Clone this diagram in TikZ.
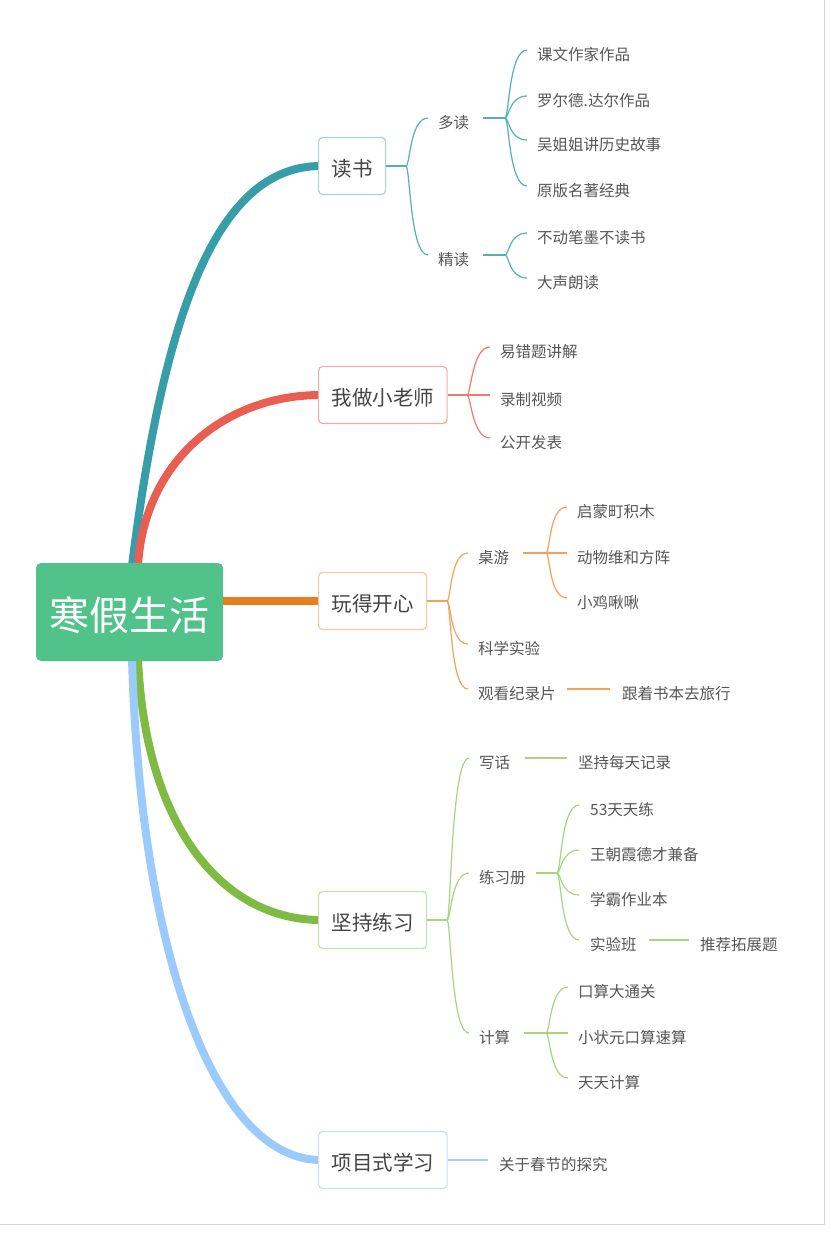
\documentclass[tikz,border=0pt]{standalone}
\usepackage{fontspec}
\newfontfamily\cjk{Noto Sans CJK SC}
\usetikzlibrary{calc}
\definecolor{cTeal}{HTML}{379DA8}
\definecolor{cRed}{HTML}{E85E50}
\definecolor{cOrange}{HTML}{E67E22}
\definecolor{cGreen}{HTML}{7FBB42}
\definecolor{cBlue}{HTML}{9ACBFC}
\definecolor{lTeal}{HTML}{56AEB8}
\definecolor{lRed}{HTML}{EF7B6E}
\definecolor{lOrange}{HTML}{F2A25A}
\definecolor{lGreen}{HTML}{A8D47E}
\definecolor{lBlue}{HTML}{A6CFF8}
\definecolor{bTeal}{HTML}{A8D5DB}
\definecolor{bRed}{HTML}{F4ABA3}
\definecolor{bOrange}{HTML}{F8C99E}
\definecolor{bGreen}{HTML}{C5E2A8}
\definecolor{bBlue}{HTML}{C9E1FB}
\definecolor{rootGreen}{HTML}{51C38A}
\definecolor{leafGray}{HTML}{555555}
\definecolor{mainGray}{HTML}{444444}
\definecolor{frameGray}{HTML}{D4D4D4}
\pgfdeclarelayer{bg}
\pgfsetlayers{bg,main}
\begin{document}
\begin{tikzpicture}[x=1pt,y=-1pt,
  leaf/.style={anchor=west, inner sep=0pt, text height=21.8pt, text depth=0pt,
    font=\cjk\fontsize{15.5}{16}\selectfont, text=leafGray},
  mainbox/.style={anchor=west, draw, line width=1.2pt, rounded corners=4pt, fill=white,
    minimum height=57pt, inner xsep=13pt, inner ysep=0pt, text height=23.6pt, text depth=2.05pt,
    font=\cjk\fontsize{20.5}{21}\selectfont, text=mainGray},
  rootbox/.style={fill=rootGreen, rounded corners=5pt, minimum width=187pt, minimum height=98pt,
    inner sep=0pt, text height=40.4pt, text depth=4pt, text=white,
    font=\cjk\fontsize{40}{40}\selectfont},
  trunk/.style={line width=8pt},
  twig/.style={line width=1.2pt},
  fk/.style={to path={.. controls +(4,0) and +(-18,0) .. (\tikztotarget)}},
]
\useasboundingbox (0,0) rectangle (830,1233);
\draw[frameGray, line width=1pt] (824,0) -- (824,1224) -- (0,1224);

% root
\node[rootbox] (r) at (129.5,612) {寒假生活};

% main boxes
\node[mainbox, draw=bTeal] (b1) at (318,166) {读书};
\node[mainbox, draw=bRed] (b2) at (318,395) {我做小老师};
\node[mainbox, draw=bOrange] (b3) at (318,601) {玩得开心};
\node[mainbox, draw=bGreen] (b4) at (318,920) {坚持练习};
\node[mainbox, draw=bBlue] (b5) at (318,1160) {项目式学习};

% trunks
\begin{pgfonlayer}{bg}
\draw[trunk, cTeal] ([xshift=2.5pt,yshift=-3pt]r.north) .. controls +(33,-263) and +(-101,0) .. ([xshift=3pt]b1.west);
\draw[trunk, cRed] ([xshift=8.5pt,yshift=-3pt]r.north) .. controls +(6,-103) and +(-98,0) .. ([xshift=3pt]b2.west);
\draw[trunk, cOrange] ([xshift=-3pt]r.east |- b3.west) -- ([xshift=3pt]b3.west);
\draw[trunk, cGreen] ([xshift=8.5pt,yshift=3pt]r.south) .. controls +(7,169) and +(-98,0) .. ([xshift=3pt]b4.west);
\draw[trunk, cBlue] ([xshift=2.5pt,yshift=3pt]r.south) .. controls +(8,289) and +(-108,0) .. ([xshift=3pt]b5.west);
\end{pgfonlayer}

% ---------- branch 1: 读书
\node[leaf] (c11) at (438,118) {多读};
\node[leaf] (c12) at (438,255) {精读};
\node[leaf] (c111) at (537,50) {课文作家作品};
\node[leaf] (c112) at (537,96) {罗尔德.达尔作品};
\node[leaf] (c113) at (537,140) {吴姐姐讲历史故事};
\node[leaf] (c114) at (537,186) {原版名著经典};
\node[leaf] (c121) at (537,233) {不动笔墨不读书};
\node[leaf] (c122) at (537,278) {大声朗读};
\coordinate (f1) at (406,166);
\coordinate (f11) at (505,118);
\coordinate (f12) at (505,255);
\begin{scope}[twig, lTeal]
\draw (b1.east) -- (f1);
\draw (f1) to[fk] ([xshift=-10pt]c11.west);
\draw (f1) to[fk] ([xshift=-10pt]c12.west);
\draw ([xshift=14pt]c11.east) -- (f11);
\draw ([xshift=14pt]c12.east) -- (f12);
\foreach \c in {c111,c112,c113,c114} \draw (f11) to[fk] ([xshift=-10pt]\c.west);
\foreach \c in {c121,c122} \draw (f12) to[fk] ([xshift=-10pt]\c.west);
\end{scope}

% ---------- branch 2: 我做小老师
\node[leaf] (c21) at (500,347) {易错题讲解};
\node[leaf] (c22) at (500,395) {录制视频};
\node[leaf] (c23) at (500,438) {公开发表};
\coordinate (f2) at (467,395);
\begin{scope}[twig, lRed]
\draw (b2.east) -- (f2);
\foreach \c in {c21,c22,c23} \draw (f2) to[fk] ([xshift=-10pt]\c.west);
\end{scope}

% ---------- branch 3: 玩得开心
\node[leaf] (c31) at (478,553) {桌游};
\node[leaf] (c32) at (478,644) {科学实验};
\node[leaf] (c33) at (478,689) {观看纪录片};
\node[leaf] (c311) at (577,507) {启蒙町积木};
\node[leaf] (c312) at (577,553) {动物维和方阵};
\node[leaf] (c313) at (577,598) {小鸡啾啾};
\node[leaf] (c331) at (622,689) {跟着书本去旅行};
\coordinate (f3) at (447,601);
\coordinate (f31) at (546,553);
\begin{scope}[twig, lOrange]
\draw (b3.east) -- (f3);
\foreach \c in {c31,c32,c33} \draw (f3) to[fk] ([xshift=-10pt]\c.west);
\draw ([xshift=14pt]c31.east) -- (f31);
\foreach \c in {c311,c312,c313} \draw (f31) to[fk] ([xshift=-10pt]\c.west);
\draw ([xshift=11pt]c33.east) -- ([xshift=-12pt]c331.west);
\end{scope}

% ---------- branch 4: 坚持练习
\node[leaf] (c41) at (479,758) {写话};
\node[leaf] (c42) at (479,873) {练习册};
\node[leaf] (c43) at (479,1033) {计算};
\node[leaf] (c411) at (578,758) {坚持每天记录};
\node[leaf] (c421) at (590,805) {53天天练};
\node[leaf] (c422) at (590,850) {王朝霞德才兼备};
\node[leaf] (c423) at (590,895) {学霸作业本};
\node[leaf] (c424) at (590,940) {实验班};
\node[leaf] (c4241) at (700,940) {推荐拓展题};
\node[leaf] (c431) at (578,987) {口算大通关};
\node[leaf] (c432) at (578,1033) {小状元口算速算};
\node[leaf] (c433) at (578,1078) {天天计算};
\coordinate (f4) at (447,920);
\coordinate (f42) at (557,873);
\coordinate (f43) at (546,1033);
\begin{scope}[twig, lGreen]
\draw (b4.east) -- (f4);
\foreach \c in {c41,c42,c43} \draw (f4) to[fk] ([xshift=-10pt]\c.west);
\draw ([xshift=15pt]c41.east) -- ([xshift=-11pt]c411.west);
\draw ([xshift=10pt]c42.east) -- (f42);
\foreach \c in {c421,c422,c423,c424} \draw (f42) to[fk] ([xshift=-11pt]\c.west);
\draw ([xshift=12pt]c424.east) -- ([xshift=-11pt]c4241.west);
\draw ([xshift=14pt]c43.east) -- (f43);
\foreach \c in {c431,c432,c433} \draw (f43) to[fk] ([xshift=-10pt]\c.west);
\end{scope}

% ---------- branch 5: 项目式学习
\node[leaf] (c51) at (499,1160) {关于春节的探究};
\draw[twig, lBlue] (b5.east) -- ([xshift=-11pt]c51.west);
\end{tikzpicture}
\end{document}
